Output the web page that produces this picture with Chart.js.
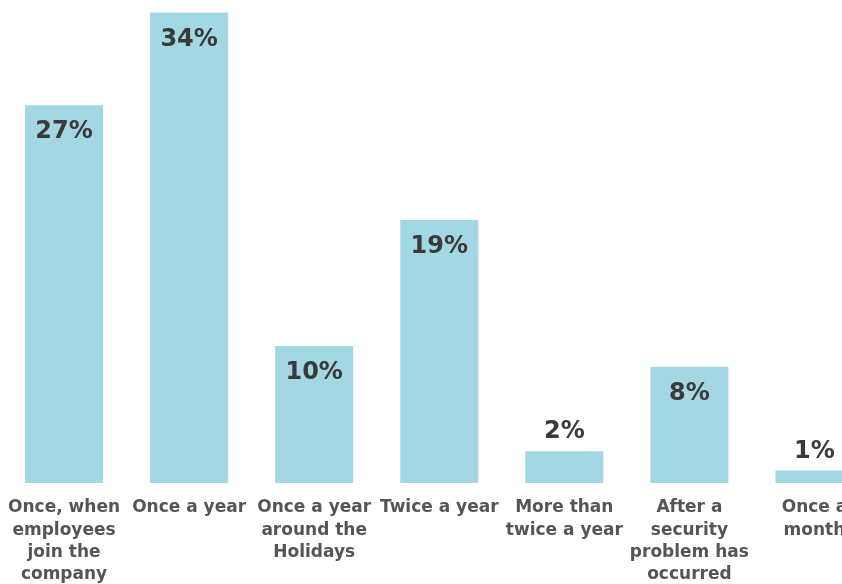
<!DOCTYPE html>
<html>
<head>
<meta charset="utf-8">
<script src="https://cdn.jsdelivr.net/npm/chart.js@4"></script>
<style>
  html, body { margin: 0; padding: 0; background: #fff; overflow: hidden; width: 842px; height: 584px; }
  #wrap { width: 877px; height: 584px; }
</style>
</head>
<body>
<div id="wrap"><canvas id="freqChart" width="877" height="584"></canvas></div>
<script>
// categories (multi-line tick labels)
const categories = [
    ["Once, when", "employees", "join the", "company"],
    ["Once a year"],
    ["Once a year", "around the", "Holidays"],
    ["Twice a year"],
    ["More than", "twice a year"],
    ["After a", "security", "problem has", "occurred"],
    ["Once a", "month"]
];
// bar heights (percent)
const shareValues = [27.3, 34, 9.9, 19, 2.3, 8.4, 0.9];
// printed labels
const shareLabels = ["27%", "34%", "10%", "19%", "2%", "8%", "1%"];

// draw the % labels: inside the top of tall bars, above short ones
const barLabelPlugin = {
    id: 'barLabels',
    afterDatasetsDraw(chart) {
        const ctx = chart.ctx;
        const meta = chart.getDatasetMeta(0);
        ctx.save();
        ctx.font = "bold 24px 'DejaVu Sans', Verdana, sans-serif";
        ctx.fillStyle = '#3a3a3a';
        ctx.textAlign = 'center';
        ctx.textBaseline = 'middle';
        meta.data.forEach((bar, i) => {
            const h = bar.base - bar.y;
            const y = h > 45 ? bar.y + 27 : bar.y - 19;
            ctx.fillText(shareLabels[i], bar.x, y);
        });
        ctx.restore();
    }
};

new Chart(document.getElementById('freqChart').getContext('2d'), {
    type: 'bar',
    data: {
        labels: categories,
        datasets: [{
            data: shareValues,
            backgroundColor: '#a2d7e3',
            borderWidth: 0,
            barPercentage: 0.624,
            categoryPercentage: 1
        }]
    },
    options: {
        responsive: false,
        animation: false,
        layout: { padding: { left: 1.5, right: 0, top: 0, bottom: 0 } },
        plugins: { legend: { display: false }, tooltip: { enabled: false } },
        scales: {
            x: {
                grid: { display: false },
                border: { display: false },
                ticks: {
                    color: '#555555',
                    maxRotation: 0,
                    autoSkip: false,
                    padding: 6,
                    font: { family: "'DejaVu Sans', Verdana, sans-serif", size: 17, weight: 'bold', lineHeight: 1.3 }
                },
                afterFit(scale) { scale.height = 101; }
            },
            y: {
                display: false,
                min: 0,
                max: 34.9
            }
        }
    },
    plugins: [barLabelPlugin]
});
</script>
</body>
</html>
